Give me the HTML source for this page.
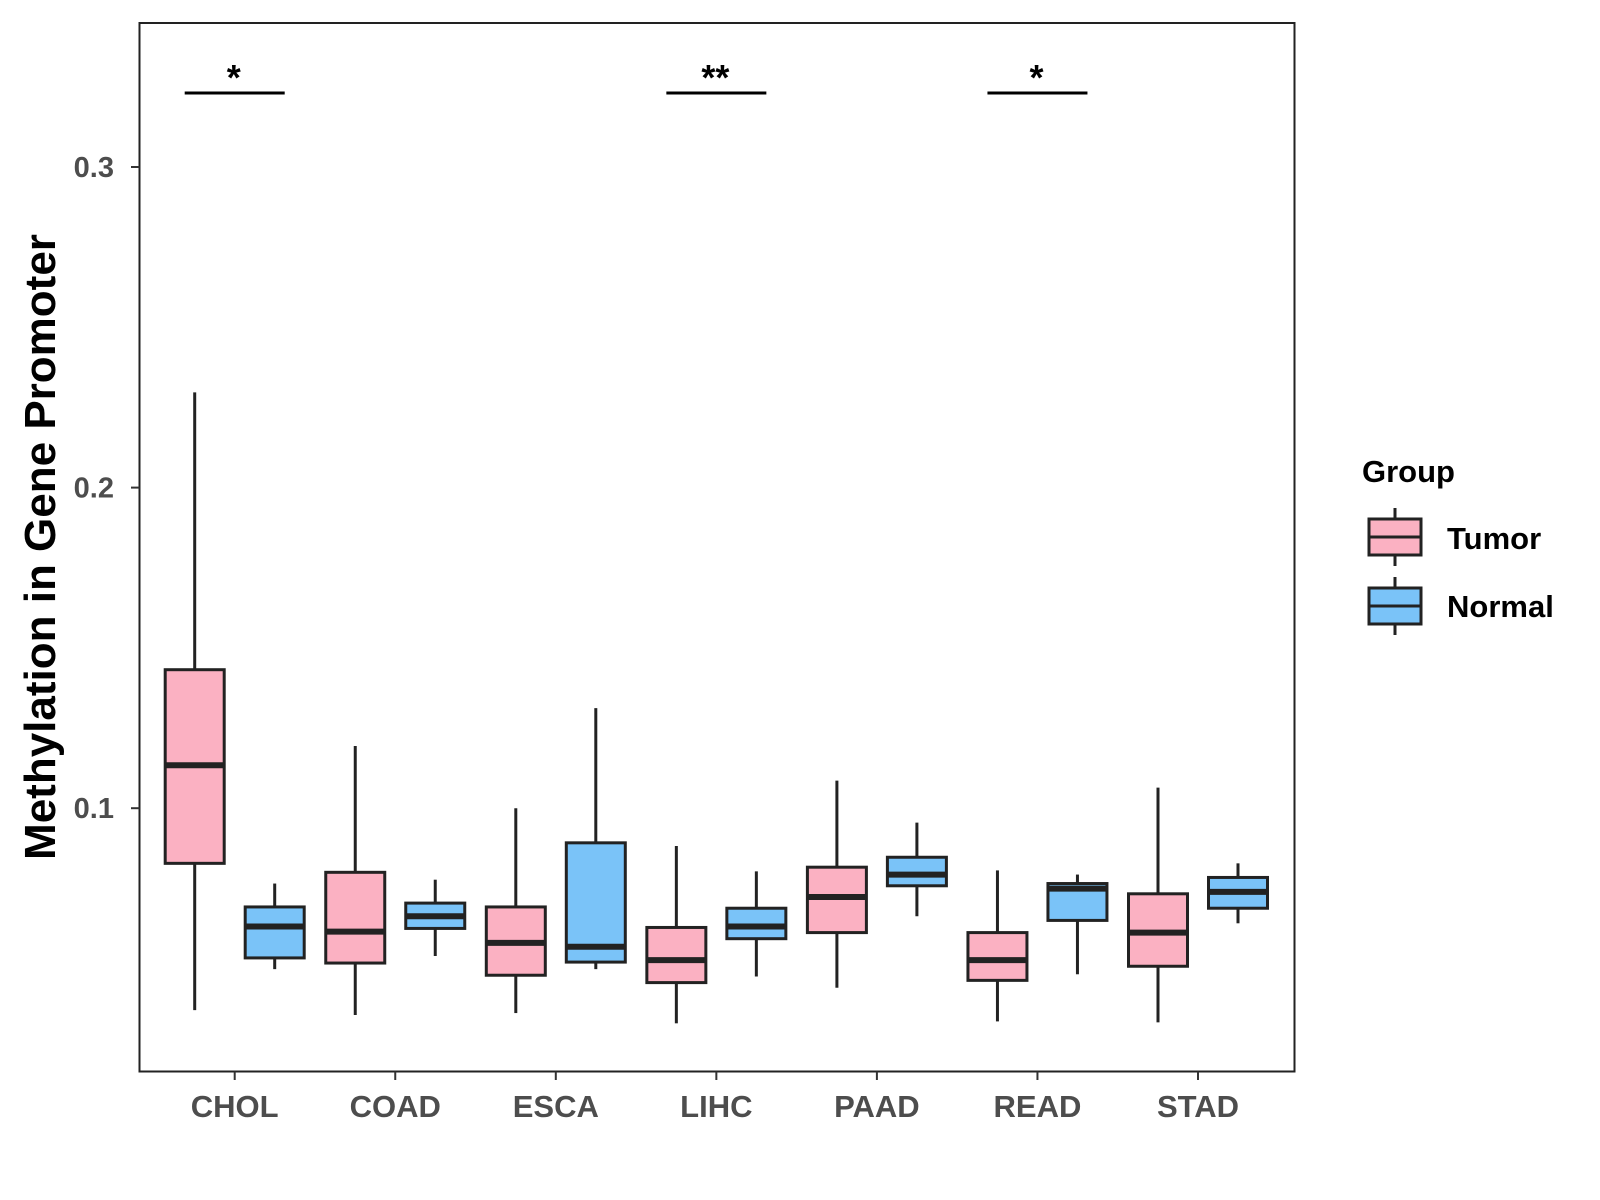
<!DOCTYPE html>
<html><head><meta charset="utf-8"><style>
body{margin:0;background:#fff}
svg{display:block;font-family:"Liberation Sans",Arial,sans-serif}
</style></head><body>
<svg id="chart" width="1600" height="1200" viewBox="0 0 1600 1200">
<rect x="139.5" y="23" width="1155" height="1048.5" fill="#fff" stroke="#222" stroke-width="2"/>
<g id="marks"></g>
<g id="axes"></g>
<text transform="translate(55,547) rotate(-90)" text-anchor="middle" font-size="44" font-weight="bold" fill="#000">Methylation in Gene Promoter</text>
<g>
<text x="1362" y="482" font-size="31" font-weight="bold" fill="#000">Group</text>
<g>
<line x1="1395" y1="508" x2="1395" y2="566" stroke="#222" stroke-width="3"/>
<rect x="1369" y="519" width="52" height="36" fill="#FBB1C2" stroke="#222" stroke-width="3"/>
<line x1="1369" y1="537" x2="1421" y2="537" stroke="#222" stroke-width="3"/>
<text x="1447" y="549" font-size="31" font-weight="bold" fill="#000">Tumor</text>
</g>
<g>
<line x1="1395" y1="577" x2="1395" y2="635" stroke="#222" stroke-width="3"/>
<rect x="1369" y="588" width="52" height="36" fill="#7AC3F8" stroke="#222" stroke-width="3"/>
<line x1="1369" y1="606" x2="1421" y2="606" stroke="#222" stroke-width="3"/>
<text x="1447" y="617" font-size="31" font-weight="bold" fill="#000">Normal</text>
</g>
</g>
</svg>
<script>
const categories=["CHOL","COAD","ESCA","LIHC","PAAD","READ","STAD"];
// [low whisker, q1, median, q3, high whisker]
const tumorStats=[[0.037,0.0828,0.1134,0.1432,0.2297],[0.0355,0.0517,0.0615,0.080,0.1194],[0.0361,0.0479,0.058,0.0692,0.1],[0.0329,0.0456,0.0526,0.0628,0.0882],[0.044,0.0612,0.0723,0.0816,0.1086],[0.0335,0.0463,0.0526,0.0612,0.0806],[0.0332,0.0507,0.0612,0.0733,0.1064]];
const normalStats=[[0.0498,0.0533,0.0631,0.0692,0.0765],[0.0539,0.0625,0.0663,0.0704,0.0777],[0.0498,0.052,0.0568,0.0892,0.1312],[0.0475,0.0593,0.0631,0.0688,0.0803],[0.0663,0.0758,0.0793,0.0847,0.0955],[0.0482,0.065,0.0749,0.0765,0.0793],[0.0641,0.0688,0.0739,0.0784,0.0828]];
const yTicks=[0.1,0.2,0.3];
const sigLabels=["*","","","**","","*",""];
const sigLevel=0.3231;

const NS="http://www.w3.org/2000/svg";
function y(v){return 808.2-(v-0.1)*3206;}
function x(i){return 234.7+i*160.55;}
function mk(tag,attrs,parent){const e=document.createElementNS(NS,tag);for(const k in attrs)e.setAttribute(k,attrs[k]);parent.appendChild(e);return e;}
const marks=document.getElementById('marks'),axes=document.getElementById('axes');
function drawBox(cx,s,fill,name){
  const g=mk('g',{},marks);
  
  
  const w=59,st={stroke:'#222','stroke-width':3};
  mk('line',Object.assign({x1:cx,x2:cx,y1:y(s[4]),y2:y(s[3])},st),g);
  mk('line',Object.assign({x1:cx,x2:cx,y1:y(s[1]),y2:y(s[0])},st),g);
  mk('rect',Object.assign({x:cx-w/2,y:y(s[3]),width:w,height:y(s[1])-y(s[3]),fill:fill},st),g);
  mk('line',{x1:cx-w/2,x2:cx+w/2,y1:y(s[2]),y2:y(s[2]),stroke:'#222','stroke-width':6},g);
}
categories.forEach((c,i)=>{
  drawBox(x(i)-40,tumorStats[i],'#FBB1C2','box-tumor-'+c.toLowerCase());
  drawBox(x(i)+40,normalStats[i],'#7AC3F8','box-normal-'+c.toLowerCase());
  mk('line',{x1:x(i),x2:x(i),y1:1071.5,y2:1080,stroke:'#333','stroke-width':2},axes);
  const t=mk('text',{x:x(i),y:1117,'text-anchor':'middle','font-size':31,'font-weight':'bold',fill:'#4d4d4d'},axes);
  t.textContent=c;
  
  
  if(sigLabels[i]){
    const g=mk('g',{},marks);
    
    
    mk('line',{x1:x(i)-50,x2:x(i)+50,y1:y(sigLevel),y2:y(sigLevel),stroke:'#000','stroke-width':3},g);
    const s=mk('text',{x:x(i)-1,y:y(sigLevel)-3,'text-anchor':'middle','font-size':36,'font-weight':'bold',fill:'#000'},g);
    s.textContent=sigLabels[i];
  }
});
yTicks.forEach(v=>{
  mk('line',{x1:131,x2:139.5,y1:y(v),y2:y(v),stroke:'#333','stroke-width':2},axes);
  const t=mk('text',{x:114,y:y(v)+10,'text-anchor':'end','font-size':29,'font-weight':'bold',fill:'#4d4d4d'},axes);
  t.textContent=v.toFixed(1);
  
  
});
</script>
</body></html>
